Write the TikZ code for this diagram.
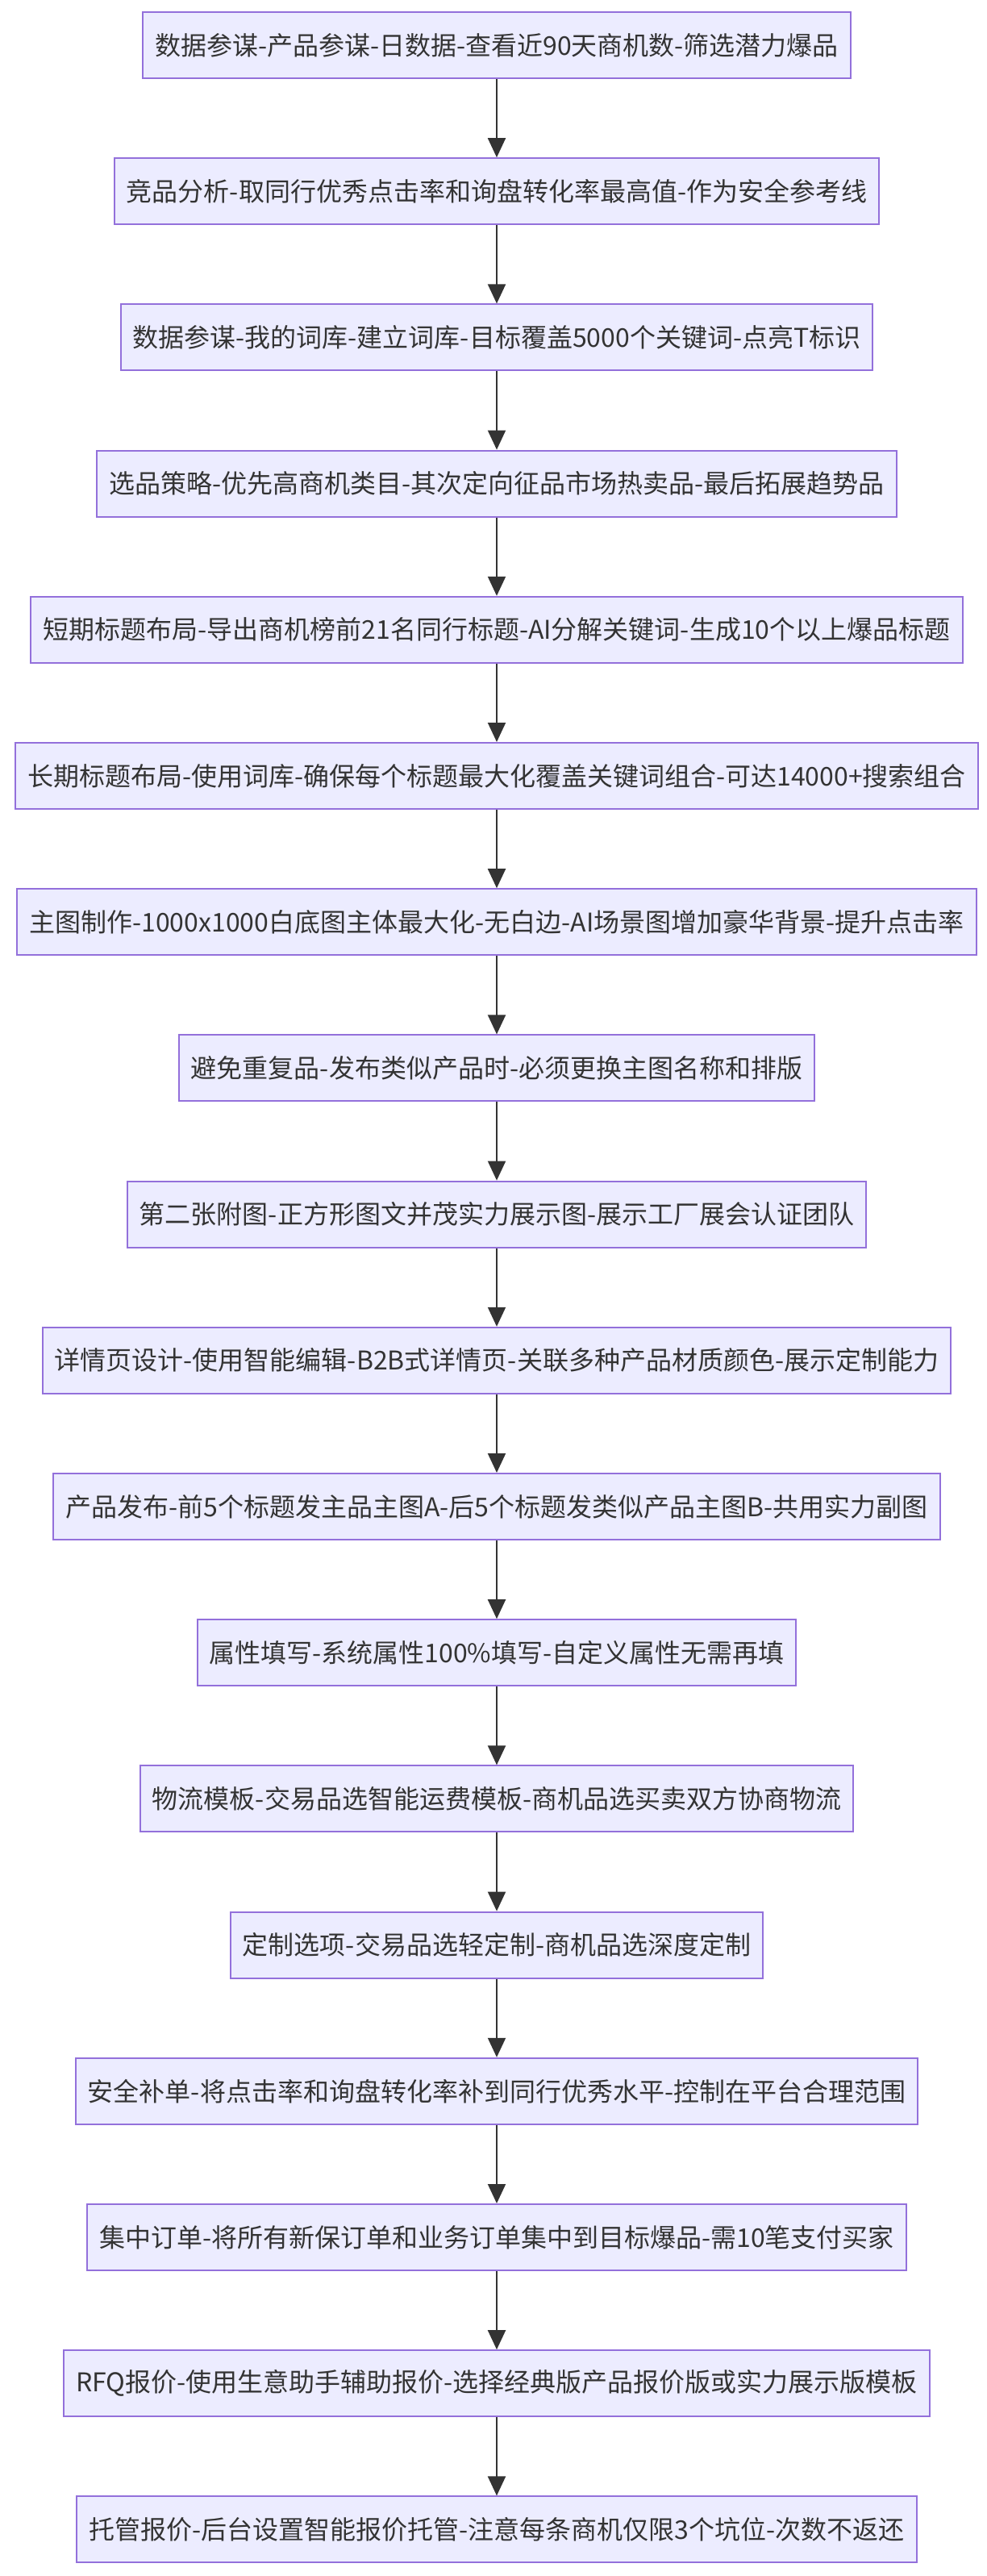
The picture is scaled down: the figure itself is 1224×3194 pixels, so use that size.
\documentclass[tikz,border=0pt]{standalone}
\usepackage{fontspec}
\setmainfont{Noto Sans CJK SC}
\usepackage{tikz}
\usetikzlibrary{arrows.meta}
\definecolor{mmfill}{HTML}{ECECFF}
\definecolor{mmborder}{HTML}{9370DB}
\definecolor{mmline}{HTML}{333333}
\tikzset{
	sbox/.style={rectangle,draw=mmborder,fill=mmfill,line width=1pt,minimum height=41pt,inner xsep=7.5pt,text=mmline,font=\fontsize{16pt}{19pt}\selectfont},
	arr/.style={-{Triangle[length=12pt,width=11pt]},line width=1pt,draw=mmline}
}
\begin{document}
\begin{tikzpicture}[x=0.5pt,y=-0.5pt]
					\useasboundingbox (0,0) rectangle (1224,3194);
					\node [sbox] (s1) at (616,56) {数据参谋-产品参谋-日数据-查看近90天商机数-筛选潜力爆品};
					\node [sbox] (s2) at (616,237.2) {竞品分析-取同行优秀点击率和询盘转化率最高值-作为安全参考线};
					\node [sbox] (s3) at (616,418.4) {数据参谋-我的词库-建立词库-目标覆盖5000个关键词-点亮T标识};
					\node [sbox] (s4) at (616,599.6) {选品策略-优先高商机类目-其次定向征品市场热卖品-最后拓展趋势品};
					\node [sbox] (s5) at (616,780.8) {短期标题布局-导出商机榜前21名同行标题-AI分解关键词-生成10个以上爆品标题};
					\node [sbox] (s6) at (616,962) {长期标题布局-使用词库-确保每个标题最大化覆盖关键词组合-可达14000+搜索组合};
					\node [sbox] (s7) at (616,1143.2) {主图制作-1000x1000白底图主体最大化-无白边-AI场景图增加豪华背景-提升点击率};
					\node [sbox] (s8) at (616,1324.4) {避免重复品-发布类似产品时-必须更换主图名称和排版};
					\node [sbox] (s9) at (616,1505.6) {第二张附图-正方形图文并茂实力展示图-展示工厂展会认证团队};
					\node [sbox] (s10) at (616,1686.8) {详情页设计-使用智能编辑-B2B式详情页-关联多种产品材质颜色-展示定制能力};
					\node [sbox] (s11) at (616,1868) {产品发布-前5个标题发主品主图A-后5个标题发类似产品主图B-共用实力副图};
					\node [sbox] (s12) at (616,2049.2) {属性填写-系统属性100\%填写-自定义属性无需再填};
					\node [sbox] (s13) at (616,2230.4) {物流模板-交易品选智能运费模板-商机品选买卖双方协商物流};
					\node [sbox] (s14) at (616,2411.6) {定制选项-交易品选轻定制-商机品选深度定制};
					\node [sbox] (s15) at (616,2592.8) {安全补单-将点击率和询盘转化率补到同行优秀水平-控制在平台合理范围};
					\node [sbox] (s16) at (616,2774) {集中订单-将所有新保订单和业务订单集中到目标爆品-需10笔支付买家};
					\node [sbox] (s17) at (616,2955.2) {RFQ报价-使用生意助手辅助报价-选择经典版产品报价版或实力展示版模板};
					\node [sbox] (s18) at (616,3136.4) {托管报价-后台设置智能报价托管-注意每条商机仅限3个坑位-次数不返还};

					\draw [arr] (s1) -- (s2);
					\draw [arr] (s2) -- (s3);
					\draw [arr] (s3) -- (s4);
					\draw [arr] (s4) -- (s5);
					\draw [arr] (s5) -- (s6);
					\draw [arr] (s6) -- (s7);
					\draw [arr] (s7) -- (s8);
					\draw [arr] (s8) -- (s9);
					\draw [arr] (s9) -- (s10);
					\draw [arr] (s10) -- (s11);
					\draw [arr] (s11) -- (s12);
					\draw [arr] (s12) -- (s13);
					\draw [arr] (s13) -- (s14);
					\draw [arr] (s14) -- (s15);
					\draw [arr] (s15) -- (s16);
					\draw [arr] (s16) -- (s17);
					\draw [arr] (s17) -- (s18);
				\end{tikzpicture}
\end{document}
